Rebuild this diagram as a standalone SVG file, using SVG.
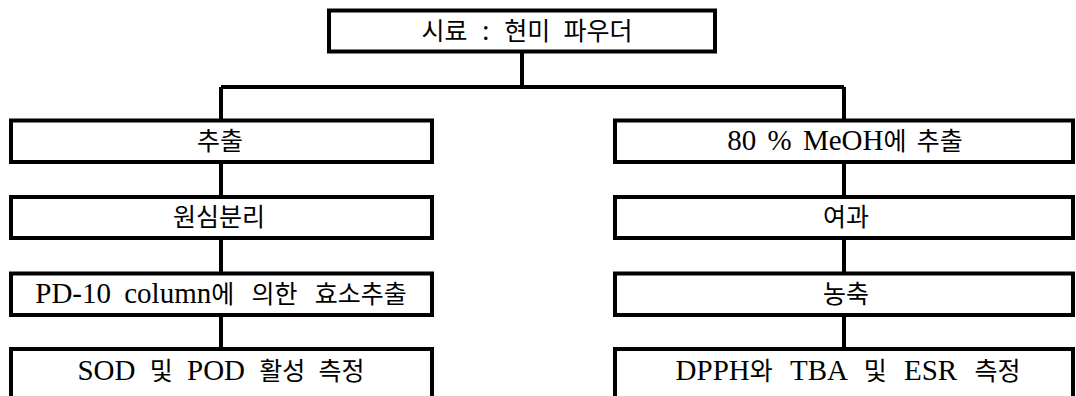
<svg xmlns="http://www.w3.org/2000/svg" width="1076" height="396" viewBox="0 0 1076 396">
<style>
.box{fill:#fff;stroke:#000;stroke-width:4}
.ln{stroke:#000;stroke-width:4;fill:none}
.t{font-family:"Liberation Serif","Noto Sans CJK KR",serif;font-size:29px;fill:#000;text-anchor:middle}
.k{font-size:25px}
</style>
<rect width="1076" height="396" fill="#fff"/>
<g id="connectors">
<path class="ln" d="M522 51.5V87M221 87H844M221 87V120.5M221 162V197M221 238V273.5M221 315V349M844 87V120.5M844 162V197M844 238V273.5M844 315V349"/>
</g>
<g id="n0"><rect class="box" x="329" y="10.5" width="386" height="41"/><text class="t" x="527" y="40" word-spacing="7"><tspan class="k">시료</tspan> : <tspan class="k">현미 파우더</tspan></text></g>
<g id="l1"><rect class="box" x="11" y="120.5" width="421" height="41.5"/><text class="t k" x="220" y="150">추출</text></g>
<g id="l2"><rect class="box" x="11" y="197" width="421" height="41"/><text class="t k" x="219" y="226">원심분리</text></g>
<g id="l3"><rect class="box" x="11" y="273.5" width="421" height="41.5"/><text class="t" x="221" y="303" word-spacing="6">PD-10 column<tspan class="k" word-spacing="11">에 의한 효소추출</tspan></text></g>
<g id="l4"><rect class="box" x="11" y="349" width="421" height="49"/><text class="t" x="221" y="380" word-spacing="7">SOD <tspan class="k">및</tspan> POD <tspan class="k">활성 측정</tspan></text></g>
<g id="r1"><rect class="box" x="615" y="120.5" width="458" height="41.5"/><text class="t" x="845" y="150" word-spacing="4">80 % MeOH<tspan class="k">에 추출</tspan></text></g>
<g id="r2"><rect class="box" x="615" y="197" width="458" height="41"/><text class="t k" x="846" y="226">여과</text></g>
<g id="r3"><rect class="box" x="615" y="273.5" width="458" height="41.5"/><text class="t k" x="846" y="303">농축</text></g>
<g id="r4"><rect class="box" x="615" y="349" width="458" height="49"/><text class="t" x="848" y="380" word-spacing="10">DPPH<tspan class="k">와</tspan> TBA <tspan class="k">및</tspan> ESR <tspan class="k">측정</tspan></text></g>
</svg>
